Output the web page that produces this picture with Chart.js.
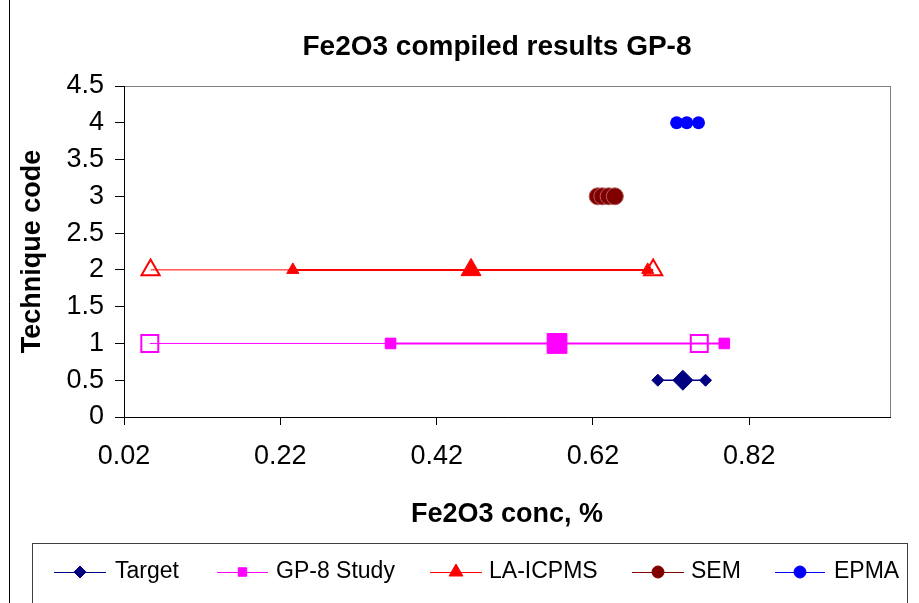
<!DOCTYPE html>
<html>
<head>
<meta charset="utf-8">
<script src="https://cdn.jsdelivr.net/npm/chart.js@4.4.1/dist/chart.umd.min.js"></script>
<style>
  body { margin: 0; background: #fff; }
  canvas { display: block; }
</style>
</head>
<body>
<canvas id="chart" width="919" height="603"></canvas>
<script>
// values (Fe2O3 %, technique code)
const targetX = [0.703, 0.735, 0.764];
const targetY = [0.5, 0.5, 0.5];
const studyX = [0.053, 0.361, 0.574, 0.756, 0.788];
const studyY = [1, 1, 1, 1, 1];
const laX = [0.054, 0.236, 0.464, 0.690, 0.697];
const laY = [2, 2, 2, 2, 2];
const semX = [0.626, 0.632, 0.640, 0.648];
const semY = [3, 3, 3, 3];
const epmaX = [0.727, 0.740, 0.755];
const epmaY = [4, 4, 4];

const seriesNames = ['Target', 'GP-8 Study', 'LA-ICPMS', 'SEM', 'EPMA'];
const xTicks = [0.02, 0.22, 0.42, 0.62, 0.82];
const xMin = 0.02, xMax = 1.0;
const yMin = 0, yMax = 4.5, yStep = 0.5;

const FONT = "'Liberation Sans', Arial, sans-serif";
const toPoints = (xs, ys) => xs.map((x, i) => ({ x: x, y: ys[i] }));
const CLEAR = 'rgba(0,0,0,0)';

const datasets = [
    {
        label: seriesNames[0],
        data: toPoints(targetX, targetY),
        borderColor: '#000080',
        backgroundColor: '#000080',
        borderWidth: 1.5,
        pointStyle: 'rectRot',
        pointRadius: [6, 10, 6],
        pointBorderWidth: 1
    },
    {
        label: seriesNames[1],
        data: toPoints(studyX, studyY),
        borderColor: '#ff00ff',
        backgroundColor: '#ff00ff',
        pointBackgroundColor: [CLEAR, '#ff00ff', '#ff00ff', CLEAR, '#ff00ff'],
        pointBorderColor: '#ff00ff',
        borderWidth: 1.5,
        pointStyle: 'rect',
        pointRadius: [12, 7.5, 14, 12, 7.5],
        pointBorderWidth: [2, 1, 1, 2, 1],
        segment: { borderWidth: c => c.p0DataIndex === 0 ? 1 : 2 }
    },
    {
        label: seriesNames[2],
        data: toPoints(laX, laY),
        borderColor: '#ff0000',
        backgroundColor: '#ff0000',
        pointBackgroundColor: [CLEAR, '#ff0000', '#ff0000', '#ff0000', CLEAR],
        pointBorderColor: '#ff0000',
        borderWidth: 1.5,
        pointStyle: 'triangle',
        pointRadius: [10.5, 7, 11.5, 7, 10.5],
        pointBorderWidth: [2, 1, 1, 1, 2],
        segment: { borderWidth: c => c.p0DataIndex === 0 ? 1 : 2 }
    },
    {
        label: seriesNames[3],
        data: toPoints(semX, semY),
        borderColor: '#800000',
        backgroundColor: '#800000',
        pointBorderColor: '#b06060',
        borderWidth: 1,
        pointStyle: 'circle',
        pointRadius: 8.5,
        pointBorderWidth: 1
    },
    {
        label: seriesNames[4],
        data: toPoints(epmaX, epmaY),
        borderColor: '#0000ff',
        backgroundColor: '#0000ff',
        borderWidth: 1,
        pointStyle: 'circle',
        pointRadius: 6.5,
        pointBorderWidth: 0
    }
];

// legend layout (Excel style box below the plot)
const legendLines = [[54, 106], [217, 268], [430, 482], [632, 684], [775, 825]];
const legendText = [115, 276, 489, 691, 834];
const legendRadius = [6, 6, 8, 6, 6];
const legendStyle = ['rectRot', 'rect', 'triangle', 'circle', 'circle'];

const decorPlugin = {
    id: 'decor',
    beforeDraw(chart) {
        const ctx = chart.ctx;
        const a = chart.chartArea;
        ctx.save();
        ctx.fillStyle = '#fff';
        ctx.fillRect(0, 0, chart.width, chart.height);
        ctx.strokeStyle = '#000';
        ctx.lineWidth = 1;
        ctx.beginPath();
        ctx.moveTo(9.5, 0);
        ctx.lineTo(9.5, chart.height);
        ctx.stroke();
        ctx.strokeStyle = '#808080';
        ctx.strokeRect(a.left + 0.5, a.top + 0.5, a.right - a.left, a.bottom - a.top);
        ctx.restore();
    },
    afterDraw(chart) {
        const ctx = chart.ctx;
        ctx.save();
        // chart title
        ctx.fillStyle = '#000';
        ctx.font = 'bold 28px ' + FONT;
        ctx.textAlign = 'center';
        ctx.textBaseline = 'middle';
        ctx.fillText('Fe2O3 compiled results GP-8', 497, 47);

        // legend box
        ctx.strokeStyle = '#404040';
        ctx.lineWidth = 1;
        ctx.strokeRect(32.5, 543.5, 875, 80);
        ctx.font = '23px ' + FONT;
        ctx.textAlign = 'left';
        chart.data.datasets.forEach((ds, i) => {
            const [x0, x1] = legendLines[i];
            const cy = 572;
            ctx.strokeStyle = ds.borderColor;
            ctx.lineWidth = 1;
            ctx.beginPath();
            ctx.moveTo(x0, cy + 0.5);
            ctx.lineTo(x1, cy + 0.5);
            ctx.stroke();
            ctx.fillStyle = ds.backgroundColor;
            ctx.strokeStyle = ds.borderColor;
            Chart.helpers.drawPoint(ctx, {
                pointStyle: legendStyle[i],
                radius: legendRadius[i],
                rotation: 0,
                borderWidth: 1
            }, (x0 + x1) / 2, cy);
            ctx.fillStyle = '#000';
            ctx.fillText(ds.label, legendText[i], cy);
        });
        ctx.restore();
    }
};

new Chart(document.getElementById('chart'), {
    type: 'line',
    data: { datasets: datasets },
    options: {
        responsive: false,
        animation: false,
        layout: { padding: { left: 0, top: 86, right: 29, bottom: 68 } },
        plugins: {
            legend: { display: false },
            title: { display: false },
            tooltip: { enabled: false }
        },
        scales: {
            x: {
                type: 'linear',
                min: xMin,
                max: xMax,
                afterBuildTicks: scale => {
                    scale.ticks = xTicks.map(v => ({ value: v }));
                },
                afterFit: scale => { scale.height = 118; },
                grid: {
                    drawOnChartArea: false,
                    drawTicks: true,
                    tickLength: 8,
                    color: '#000'
                },
                border: { color: '#000', width: 1 },
                ticks: {
                    color: '#000',
                    padding: 15,
                    maxRotation: 0,
                    font: { family: FONT, size: 27 },
                    callback: v => v.toFixed(2)
                },
                title: {
                    display: true,
                    text: 'Fe2O3 conc, %',
                    color: '#000',
                    padding: { top: 0, bottom: 4 },
                    font: { family: FONT, size: 27, weight: 'bold' }
                }
            },
            y: {
                type: 'linear',
                min: yMin,
                max: yMax,
                afterFit: scale => { scale.width = 124; },
                grid: {
                    drawOnChartArea: false,
                    drawTicks: true,
                    tickLength: 9,
                    color: '#000'
                },
                border: { color: '#000', width: 1 },
                ticks: {
                    stepSize: yStep,
                    color: '#000',
                    padding: 11,
                    font: { family: FONT, size: 27 },
                    callback: v => String(v)
                },
                title: {
                    display: true,
                    text: 'Technique code',
                    color: '#000',
                    padding: { top: 16, bottom: 0 },
                    font: { family: FONT, size: 27, weight: 'bold' }
                }
            }
        }
    },
    plugins: [decorPlugin]
});
</script>
</body>
</html>
